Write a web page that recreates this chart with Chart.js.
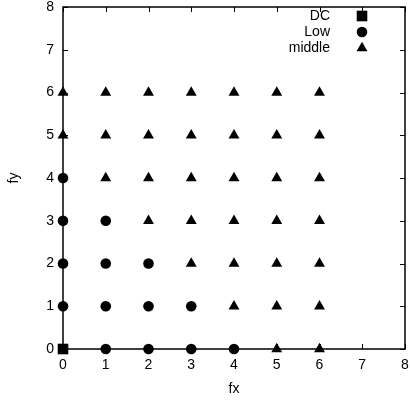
<!DOCTYPE html>
<html>
<head>
<meta charset="utf-8">
<script src="https://cdn.jsdelivr.net/npm/chart.js@4/dist/chart.umd.min.js"></script>
<style>
  html, body { margin: 0; padding: 0; background: #fff; overflow: hidden; }
  #wrap { position: relative; width: 410px; height: 400px; }
  canvas { display: block; }
</style>
</head>
<body>
<div id="wrap"><canvas id="grafico"></canvas></div>
<script>
// dados (fx, fy)
const pontosDC = [[0, 0]];
const pontosLow = [
  [0, 1], [0, 2], [0, 3], [0, 4],
  [1, 0], [1, 1], [1, 2], [1, 3],
  [2, 0], [2, 1], [2, 2],
  [3, 0], [3, 1],
  [4, 0]
];
const pontosMiddle = [
  [0, 5], [0, 6],
  [1, 4], [1, 5], [1, 6],
  [2, 3], [2, 4], [2, 5], [2, 6],
  [3, 2], [3, 3], [3, 4], [3, 5], [3, 6],
  [4, 1], [4, 2], [4, 3], [4, 4], [4, 5], [4, 6],
  [5, 0], [5, 1], [5, 2], [5, 3], [5, 4], [5, 5], [5, 6],
  [6, 0], [6, 1], [6, 2], [6, 3], [6, 4], [6, 5], [6, 6]
];
const ticksX = [0, 1, 2, 3, 4, 5, 6, 7, 8];
const ticksY = [0, 1, 2, 3, 4, 5, 6, 7, 8];
const legendas = ['DC', 'Low', 'middle'];

const fonte = { family: 'Liberation Sans, Arial, sans-serif', size: 14 };

function criarDataset(label, pontos, estilo, raio) {
  return {
    label,
    data: pontos.map(p => ({ x: p[0], y: p[1] })),
    pointStyle: estilo,
    pointRadius: raio,
    pointHoverRadius: raio,
    backgroundColor: '#000',
    borderColor: '#000',
    borderWidth: 0,
    clip: false
  };
}

// moldura, ticks para dentro (espelhados) e legenda estilo gnuplot
const molduraPlugin = {
  id: 'moldura',
  beforeDatasetsDraw(chart) {
    const { ctx, chartArea: a, scales } = chart;
    ctx.save();
    ctx.strokeStyle = '#000';
    ctx.lineWidth = 1;
    ctx.beginPath();
    ticksX.forEach(v => {
      const x = Math.round(scales.x.getPixelForValue(v)) + 0.5;
      ctx.moveTo(x, a.bottom); ctx.lineTo(x, a.bottom - 5);
      ctx.moveTo(x, a.top); ctx.lineTo(x, a.top + 5);
    });
    ticksY.forEach(v => {
      const y = Math.round(scales.y.getPixelForValue(v)) + 0.5;
      ctx.moveTo(a.left, y); ctx.lineTo(a.left + 5, y);
      ctx.moveTo(a.right, y); ctx.lineTo(a.right - 5, y);
    });
    ctx.stroke();
    ctx.lineWidth = 1.5;
    ctx.strokeRect(a.left, a.top, a.right - a.left, a.bottom - a.top);
    ctx.restore();
  },
  afterDraw(chart) {
    const ctx = chart.ctx;
    ctx.save();
    ctx.font = `${fonte.size}px ${fonte.family}`;
    ctx.fillStyle = '#000';
    ctx.textAlign = 'right';
    ctx.textBaseline = 'middle';
    chart.data.datasets.forEach((ds, i) => {
      const y = 16 + i * 16;
      ctx.fillText(legendas[i], 330, y);
      Chart.helpers.drawPoint(ctx, {
        pointStyle: ds.pointStyle,
        radius: ds.pointRadius,
        rotation: 0,
        borderWidth: 0
      }, 362, y);
    });
    ctx.restore();
  }
};

new Chart(document.getElementById('grafico'), {
  type: 'scatter',
  data: {
    datasets: [
      criarDataset(legendas[0], pontosDC, 'rect', 7.5),
      criarDataset(legendas[1], pontosLow, 'circle', 5.3),
      criarDataset(legendas[2], pontosMiddle, 'triangle', 6.3)
    ]
  },
  options: {
    responsive: true,
    maintainAspectRatio: false,
    animation: false,
    events: [],
    layout: { autoPadding: false, padding: { top: 7, right: 5, left: 0, bottom: 0 } },
    plugins: { legend: { display: false }, tooltip: { enabled: false } },
    scales: {
      x: {
        type: 'linear',
        min: 0,
        max: 8,
        afterFit: s => { s.height = 51; s.paddingLeft = 0; s.paddingRight = 0; },
        afterBuildTicks: s => { s.ticks = ticksX.map(v => ({ value: v })); },
        grid: { display: false, drawTicks: false },
        border: { display: false },
        ticks: { color: '#000', font: fonte, padding: 8, maxRotation: 0 },
        title: { display: true, text: 'fx', color: '#000', font: fonte, padding: { top: 0, bottom: 2 } }
      },
      y: {
        type: 'linear',
        min: 0,
        max: 8,
        afterFit: s => { s.width = 63; s.paddingTop = 0; s.paddingBottom = 0; },
        afterBuildTicks: s => { s.ticks = ticksY.map(v => ({ value: v })); },
        grid: { display: false, drawTicks: false },
        border: { display: false },
        ticks: { color: '#000', font: fonte, padding: 9 },
        title: { display: true, text: 'fy', color: '#000', font: fonte, padding: { top: 6, bottom: 0 } }
      }
    }
  },
  plugins: [molduraPlugin]
});
</script>
</body>
</html>
